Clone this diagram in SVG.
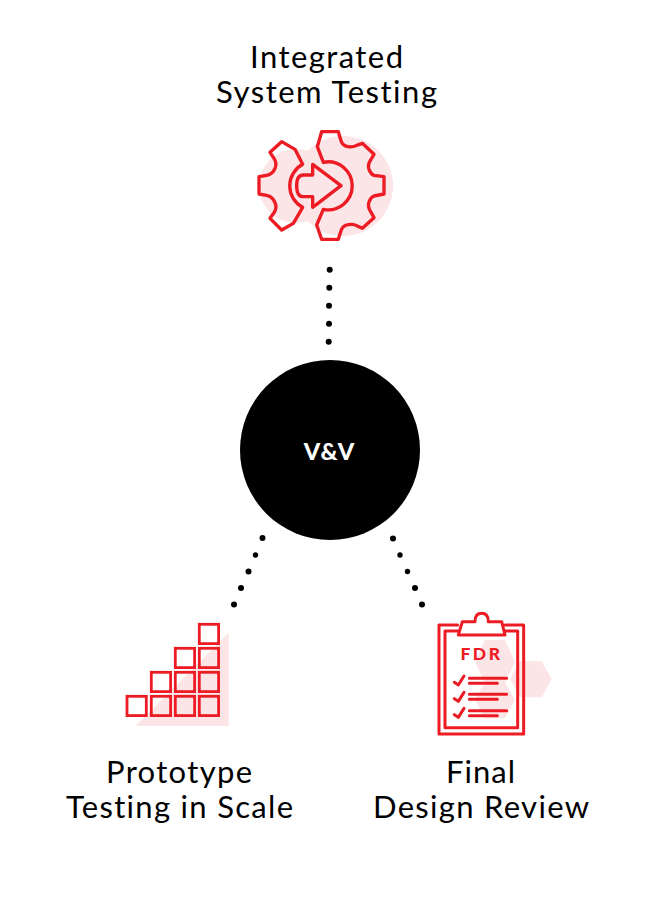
<svg xmlns="http://www.w3.org/2000/svg" width="661" height="901" viewBox="0 0 661 901">
<style>
.label{font-family:"Lato","Liberation Sans",sans-serif;font-size:31px;fill:#000;text-anchor:middle;font-variant-ligatures:none}
.blush{fill:#fce5e6;stroke:none}
.ink{fill:none;stroke:#ed1c24;stroke-width:9;stroke-linejoin:round;stroke-linecap:round}
.gear{fill:none;stroke:#ed1c24;stroke-width:10;stroke-linejoin:round;stroke-linecap:round}
.sq{fill:none;stroke:#ed1c24;stroke-width:2.800}
.dot{fill:#000}
</style>
<rect width="661" height="901" fill="#fff"/>
<g id="connectors">
<circle class="dot" cx="329.700" cy="269.700" r="3"/><circle class="dot" cx="329.300" cy="287.700" r="3"/><circle class="dot" cx="329" cy="305.700" r="3"/><circle class="dot" cx="329" cy="323.700" r="3"/><circle class="dot" cx="328.700" cy="341.700" r="3"/>
<circle class="dot" cx="262.500" cy="538" r="3"/><circle class="dot" cx="255.500" cy="555" r="2.700"/><circle class="dot" cx="248.500" cy="571.500" r="3"/><circle class="dot" cx="241" cy="588" r="3"/><circle class="dot" cx="234" cy="604.500" r="3"/>
<circle class="dot" cx="393" cy="538.500" r="3"/><circle class="dot" cx="400" cy="555" r="2.700"/><circle class="dot" cx="407.500" cy="571.500" r="2.700"/><circle class="dot" cx="415" cy="588" r="3"/><circle class="dot" cx="422" cy="604.500" r="3"/>
</g>
<g id="node-vv">
<circle cx="330" cy="450" r="90" fill="#000"/>
<text x="329.500" y="460" font-family="Lato,'Liberation Sans',sans-serif" font-weight="900" font-size="23.500" letter-spacing="1" fill="#fff" text-anchor="middle">V&amp;V</text>
</g>
<g id="node-system">
<text class="label" x="326.500" y="68" textLength="153" lengthAdjust="spacing">Integrated</text>
<text class="label" x="326.500" y="103" textLength="221" lengthAdjust="spacing">System Testing</text>
<circle class="blush" cx="343" cy="186" r="50"/><circle class="blush" cx="296" cy="186" r="37"/>
<g transform="translate(240 120) scale(.33333)">
<path class="gear" d="M250 127L232 80L245 35H295L303 62Q308 78 325 80Q340 82 350 76L367 70L402 103L392 120Q382 135 387 148Q392 162 402 166L432 170V222L402 228Q392 232 387 246Q382 260 392 275L402 293L367 325L350 317Q340 311 325 314Q308 316 303 332L295 358H245L230 315L250 268A72 72 0 1 0 250 127Z"/>
<path class="gear" d="M188 133L165 88L125 65L90 97L102 115Q112 130 105 145Q98 163 80 166L57 170V222L80 226Q98 230 105 248Q112 262 102 278L90 295L125 330L160 310L188 262A73 73 0 0 1 188 133Z"/>
<path class="gear" d="M218 133L303 197L218 262V230H190Q170 230 170 197Q170 165 190 165H218Z"/>
</g>
</g>
<g id="node-prototype">
<polygon class="blush" points="135.300,726 228.700,632.700 228.700,726"/>
<rect class="sq" x="127" y="696.300" width="19.300" height="19.300"/>
<rect class="sq" x="151.300" y="696.300" width="19.300" height="19.300"/>
<rect class="sq" x="175.300" y="696.300" width="19.300" height="19.300"/>
<rect class="sq" x="199.300" y="696.300" width="19.300" height="19.300"/>
<rect class="sq" x="151.300" y="672.300" width="19.300" height="19.300"/>
<rect class="sq" x="175.300" y="672.300" width="19.300" height="19.300"/>
<rect class="sq" x="199.300" y="672.300" width="19.300" height="19.300"/>
<rect class="sq" x="175.300" y="648.300" width="19.300" height="19.300"/>
<rect class="sq" x="199.300" y="648.300" width="19.300" height="19.300"/>
<rect class="sq" x="199.300" y="624.300" width="19.300" height="19.300"/>
<text class="label" x="179" y="783" textLength="146" lengthAdjust="spacing">Prototype</text>
<text class="label" x="179.500" y="818" textLength="227" lengthAdjust="spacing">Testing in Scale</text>
</g>
<g id="node-fdr">
<g transform="translate(425 605) scale(.33333)">
<polygon class="blush" points="180,105 240,105 270,170 240,235 180,235 150,170"/>
<polygon class="blush" points="285,168 350,168 380,222 350,277 285,277 255,222"/>
<polygon class="blush" points="180,232 240,232 270,285 240,340 180,340 150,285"/>
<path class="ink" d="M98 60H42V387H296V60H240"/>
<path class="ink" d="M98 78H60V368H278V78H240"/>
<path class="ink" d="M100 90L112 50H150Q150 25 170 25Q190 25 190 50H230L240 90Z"/>
<path class="ink" d="M88 232L100 240L117 213M88 281L100 289L117 262M88 329L100 337L117 310"/>
<path class="ink" d="M133 220H245M133 235H217M133 268H245M133 283H217M133 317H245M133 332H217"/>
</g>
<text x="481.500" y="660" font-family="Lato,'Liberation Sans',sans-serif" font-weight="900" font-size="17.500" letter-spacing="2.500" fill="#ed1c24" text-anchor="middle">FDR</text>
<text class="label" x="480.500" y="783" textLength="69" lengthAdjust="spacing">Final</text>
<text class="label" x="481" y="818" textLength="216" lengthAdjust="spacing">Design Review</text>
</g>
</svg>
